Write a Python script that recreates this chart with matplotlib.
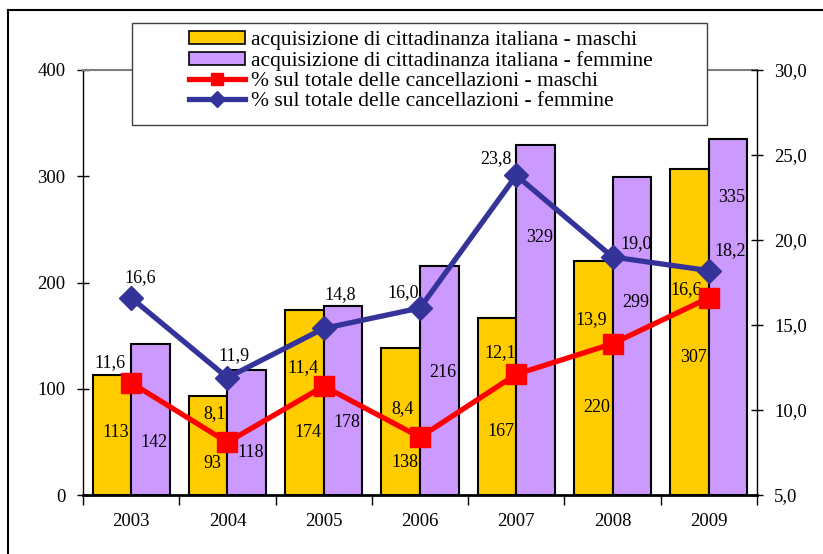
import numpy as np
import matplotlib.pyplot as plt
from matplotlib.lines import Line2D
from matplotlib.patches import Rectangle

plt.rcParams['font.family'] = ['Liberation Serif', 'DejaVu Serif']

anni = ['2003', '2004', '2005', '2006', '2007', '2008', '2009']
acq_maschi = [113, 93, 174, 138, 167, 220, 307]
acq_femmine = [142, 118, 178, 216, 329, 299, 335]
perc_maschi = [11.6, 8.1, 11.4, 8.4, 12.1, 13.9, 16.6]
perc_femmine = [16.6, 11.9, 14.8, 16.0, 23.8, 19.0, 18.2]

# where the labels sit (layout only)
lab_h_m = [59, 30, 59, 31, 60, 82, 129]
lab_h_f = [49, 40, 68, 115, 242, 181, 280]
off_pm = [(-0.22, 1.2), (-0.13, 1.7), (-0.22, 1.1), (-0.18, 1.7), (-0.17, 1.3), (-0.22, 1.4), (-0.24, 0.5)]
off_pf = [(0.09, 1.2), (0.07, 1.3), (0.17, 2.0), (-0.18, 0.9), (-0.21, 1.0), (0.25, 0.8), (0.22, 1.2)]

giallo = '#FFCC00'
viola = '#CC99FF'
rosso = '#FF0000'
blu = '#333399'

def virgola(v):
    return f'{v:.1f}'.replace('.', ',')

fig = plt.figure(figsize=(8.23, 5.54), dpi=100)
ax = fig.add_axes([83/823, 1 - 495/554, (757-83)/823, (495-70)/554])
ax2 = ax.twinx()

x = np.arange(len(anni))
w = 0.4
ax.bar(x - w/2, acq_maschi, w, color=giallo, edgecolor='black', linewidth=1.5, zorder=2)
ax.bar(x + w/2, acq_femmine, w, color=viola, edgecolor='black', linewidth=1.5, zorder=2)

for i in range(len(anni)):
    ax.text(x[i] - w/2 + 0.04, lab_h_m[i], str(acq_maschi[i]), ha='center', va='center', fontsize=13, zorder=3)
    ax.text(x[i] + w/2 + 0.04, lab_h_f[i], str(acq_femmine[i]), ha='center', va='center', fontsize=13, zorder=3)

ax2.plot(x, perc_maschi, color=rosso, lw=3.8, marker='s', markersize=14, zorder=4)
ax2.plot(x, perc_femmine, color=blu, lw=3.8, marker='D', markersize=12.5, zorder=5)
for i in range(len(anni)):
    ax2.text(x[i] + off_pm[i][0], perc_maschi[i] + off_pm[i][1], virgola(perc_maschi[i]),
             ha='center', va='center', fontsize=13)
    ax2.text(x[i] + off_pf[i][0], perc_femmine[i] + off_pf[i][1], virgola(perc_femmine[i]),
             ha='center', va='center', fontsize=13)

ax.set_xlim(-0.5, 6.5)
ax.set_ylim(0, 400)
ax2.set_ylim(5, 30)

ax.set_xticks(np.arange(-0.5, 7, 1))
ax.set_xticklabels([])
ax.set_xticks(x, minor=True)
ax.set_xticklabels(anni, minor=True, fontsize=13.5)
ax.tick_params(axis='x', which='major', direction='out', length=7, width=1)
ax.tick_params(axis='x', which='minor', length=0, pad=13)

ax.set_yticks([0, 100, 200, 300, 400])
ax.tick_params(axis='y', direction='inout', length=9, width=1, labelsize=13.5, pad=8)
ax2.set_yticks([5, 10, 15, 20, 25, 30])
ax2.set_yticklabels([virgola(v) for v in [5, 10, 15, 20, 25, 30]])
ax2.tick_params(axis='y', direction='inout', length=9, width=1, labelsize=13.5, pad=8)

ax.spines['top'].set_color('#808080')
ax.spines['top'].set_linewidth(1.5)
ax.spines['right'].set_visible(False)
ax.spines['bottom'].set_linewidth(2)
ax.spines['left'].set_linewidth(1)
ax2.spines['top'].set_visible(False)
ax2.spines['left'].set_visible(False)
ax2.spines['bottom'].set_visible(False)
ax2.spines['right'].set_linewidth(1)

# outer frame of the original page
fig.add_artist(Line2D([8/823, 1], [1 - 10/554, 1 - 10/554], color='black', lw=1.5))
fig.add_artist(Line2D([8/823, 8/823], [0, 1 - 10/554], color='black', lw=1.5))

# legend box
fig.add_artist(Rectangle((132/823, 1 - 125/554), (707-132)/823, (125-23)/554,
                         facecolor='white', edgecolor='#404040', lw=1, zorder=3))
handles = [
    Rectangle((0, 0), 1, 1, facecolor=giallo, edgecolor='black', lw=1.2),
    Rectangle((0, 0), 1, 1, facecolor=viola, edgecolor='black', lw=1.2),
    Line2D([], [], color=rosso, lw=3.8, marker='s', markersize=9),
    Line2D([], [], color=blu, lw=3.8, marker='D', markersize=8),
]
etichette = [
    'acquisizione di cittadinanza italiana - maschi',
    'acquisizione di cittadinanza italiana - femmine',
    '% sul totale delle cancellazioni - maschi',
    '% sul totale delle cancellazioni - femmine',
]
fig.legend(handles, etichette, loc='center', bbox_to_anchor=(421/823, 1 - 71/554),
           frameon=False, fontsize=15.5, handlelength=2.6, handleheight=0.55,
           handletextpad=0.25, labelspacing=0.05, borderpad=0)

fig.savefig('out.png', dpi=100)
